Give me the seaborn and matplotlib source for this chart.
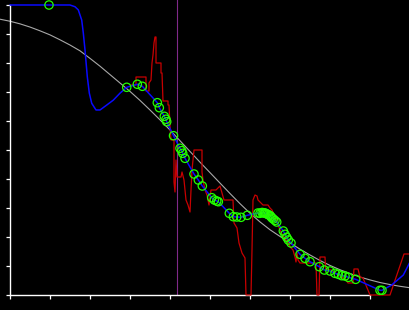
import matplotlib
matplotlib.use("Agg")
import matplotlib.pyplot as plt
import seaborn as sns
import pandas as pd

# Smooth reference curve (gray)
curve_x = [-0.25, 0.0, 0.25, 0.5, 0.75, 1.0, 1.25, 1.5, 1.75, 2.0, 2.25, 2.5, 2.75,
           3.0, 3.25, 3.5, 3.75, 4.0, 4.25, 4.5, 4.75, 5.0, 5.25, 5.5, 5.75, 6.0,
           6.25, 6.5, 6.75, 7.0, 7.25, 7.5, 7.75, 8.0, 8.25, 8.5, 8.75, 9.0, 9.25,
           9.5, 9.75, 10.0]
curve_y = [9.51, 9.44, 9.35, 9.24, 9.11, 8.97, 8.80, 8.62, 8.42, 8.16, 7.89, 7.60, 7.31,
           7.02, 6.71, 6.38, 6.04, 5.69, 5.32, 4.95, 4.58, 4.22, 3.86, 3.50, 3.15, 2.82,
           2.52, 2.25, 2.02, 1.80, 1.58, 1.38, 1.19, 1.02, 0.87, 0.74, 0.62, 0.52, 0.43,
           0.36, 0.30, 0.25]

# Observed points (green circles)
obs_x = [0.975, 2.918, 3.183, 3.308, 3.683, 3.733, 3.858, 3.900, 3.918, 4.088, 4.250,
         4.293, 4.318, 4.375, 4.600, 4.708, 4.808, 5.043, 5.108, 5.168, 5.208, 5.483,
         5.583, 5.668, 5.775, 5.933, 6.200, 6.250, 6.300, 6.333, 6.363, 6.393, 6.425,
         6.458, 6.500, 6.525, 6.550, 6.583, 6.625, 6.668, 6.833, 6.875, 6.918, 6.958,
         7.025, 7.250, 7.375, 7.500, 7.733, 7.858, 8.000, 8.125, 8.208, 8.293, 8.375,
         8.458, 8.643, 9.250, 9.300]
obs_y = [10.0, 7.162, 7.266, 7.197, 6.631, 6.459, 6.162, 6.059, 5.976, 5.493, 5.059,
         4.976, 4.886, 4.714, 4.172, 3.966, 3.759, 3.355, 3.276, 3.241, 3.217, 2.817,
         2.700, 2.690, 2.679, 2.748, 2.828, 2.817, 2.845, 2.838, 2.828, 2.817, 2.793,
         2.769, 2.741, 2.700, 2.655, 2.621, 2.569, 2.517, 2.207, 2.093, 1.990, 1.897,
         1.793, 1.403, 1.266, 1.148, 0.976, 0.862, 0.828, 0.748, 0.714, 0.666, 0.655,
         0.610, 0.541, 0.162, 0.162]

# Fitted line (blue)
fit_x = [0.0, 0.975, 1.5, 1.625, 1.708, 1.793, 1.833, 1.875, 1.933, 1.983, 2.043,
         2.15, 2.25, 2.418, 2.583, 2.75] + obs_x[1:] + [9.543, 9.833, 10.0]
fit_y = [10.0, 10.0, 10.0, 9.94, 9.83, 9.48, 9.03, 8.45, 7.52, 6.96, 6.61,
         6.38, 6.38, 6.55, 6.72, 6.96] + obs_y[1:] + [0.345, 0.690, 1.138]

# Raw signal (red)
raw_x = [3.025, 3.15, 3.15, 3.4, 3.4, 3.475, 3.475, 3.525, 3.55, 3.575, 3.6, 3.625,
         3.65, 3.65, 3.775, 3.775, 3.8, 3.825, 3.95, 3.95, 3.975, 4.0, 4.025, 4.1,
         4.1, 4.125, 4.15, 4.175, 4.275, 4.3, 4.35, 4.4, 4.45, 4.5, 4.525, 4.55, 4.6,
         4.8, 4.8, 4.825, 4.875, 4.925, 4.975, 5.025, 5.15, 5.25, 5.3, 5.35, 5.45,
         5.575, 5.6, 5.675, 5.725, 5.8, 5.875, 5.9, 6.025, 6.05, 6.075, 6.125, 6.175,
         6.2, 6.325, 6.45, 6.5, 6.55, 6.6, 6.675, 6.75, 6.825, 6.875, 6.95, 7.025,
         7.075, 7.125, 7.15, 7.175, 7.2, 7.25, 7.65, 7.675, 7.725, 7.75, 7.875, 7.888,
         7.95, 8.025, 8.1, 8.2, 8.325, 8.4, 8.45, 8.575, 8.6, 8.7, 8.75, 8.825, 9.0,
         9.5, 9.85, 10.0]
raw_y = [7.241, 7.241, 7.517, 7.517, 7.034, 7.034, 7.310, 7.414, 8.0, 8.276, 8.690,
         8.897, 8.897, 8.0, 8.0, 7.655, 7.655, 6.690, 6.690, 6.552, 6.552, 5.828,
         5.345, 5.345, 3.897, 3.552, 4.655, 4.069, 4.069, 4.241, 3.966, 3.276, 3.103,
         2.862, 3.621, 4.310, 5.0, 5.0, 4.241, 3.966, 3.621, 3.448, 3.103, 3.621,
         3.621, 3.759, 3.517, 3.276, 3.276, 3.276, 2.483, 2.310, 1.793, 1.448, 1.276,
         0.0, 0.0, 1.552, 3.276, 3.448, 3.414, 3.276, 3.103, 3.103, 3.0, 2.931, 2.759,
         2.517, 2.241, 2.034, 1.966, 1.793, 1.621, 1.552, 1.310, 1.138, 1.448, 1.207,
         1.103, 1.103, 0.0, 0.0, 1.310, 1.310, 0.931, 0.862, 0.862, 0.793, 0.690,
         0.586, 0.517, 0.414, 0.414, 0.897, 0.897, 0.621, 0.586, 0.0, 0.0, 1.414,
         1.414]

marker_x = 4.175
x_ticks = list(range(0, 10))
y_ticks = list(range(0, 11))

sns.set_style("ticks")
plt.rcParams["font.family"] = ["DejaVu Sans"]

fig = plt.figure(figsize=(4.1, 3.1), dpi=100, facecolor="black")
ax = fig.add_axes([0, 0, 1, 1])
ax.set_facecolor("black")

ax.vlines(marker_x, 0, 10.2, color="#802a8a", linewidth=0.8, zorder=1)

sns.lineplot(data=pd.DataFrame({"x": curve_x, "y": curve_y}), x="x", y="y",
             estimator=None, sort=False, color="#a8a8a8", linewidth=0.8, ax=ax, zorder=2)
sns.lineplot(data=pd.DataFrame({"x": raw_x, "y": raw_y}), x="x", y="y",
             estimator=None, sort=False, color="#c80000", linewidth=0.9, ax=ax, zorder=3)
sns.lineplot(data=pd.DataFrame({"x": fit_x, "y": fit_y}), x="x", y="y",
             estimator=None, sort=False, color="#0a0aff", linewidth=1.1, ax=ax, zorder=4)
sns.scatterplot(data=pd.DataFrame({"x": obs_x, "y": obs_y}), x="x", y="y",
                marker="o", s=36, facecolor="none", edgecolor="#22ff00",
                linewidth=0.9, ax=ax, zorder=5)

ax.set_xlim(-0.25, 10.0)
ax.set_ylim(-15 / 29, 295 / 29)
ax.set_xticks(x_ticks)
ax.set_yticks(y_ticks)
ax.tick_params(axis="both", direction="out", length=3.2, width=0.9, color="white",
               labelbottom=False, labelleft=False)
ax.set_xlabel("")
ax.set_ylabel("")
for side in ("top", "right"):
    ax.spines[side].set_visible(False)
for side in ("left", "bottom"):
    ax.spines[side].set_color("white")
    ax.spines[side].set_linewidth(1.0)
    ax.spines[side].set_position(("data", 0))
ax.spines["bottom"].set_bounds(0, 9)
ax.spines["left"].set_bounds(0, 10)

fig.savefig("out.png", dpi=100, facecolor="black")
